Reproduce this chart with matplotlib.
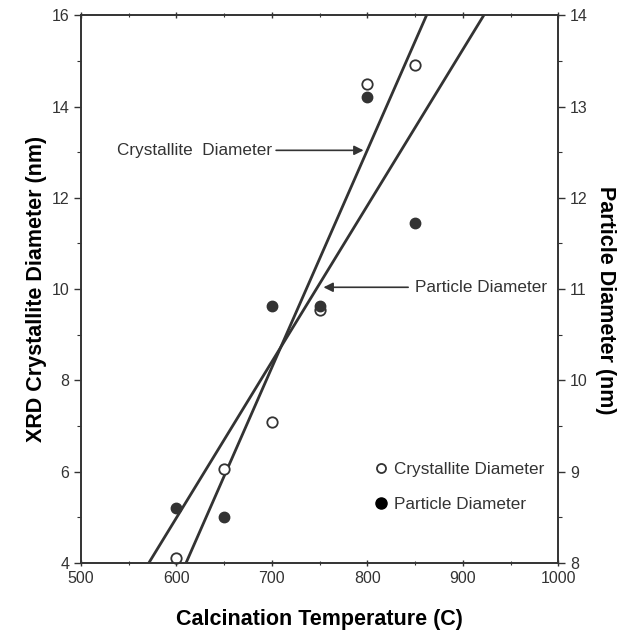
import numpy as np
import matplotlib
matplotlib.use('Agg')
import matplotlib.pyplot as plt
from matplotlib.lines import Line2D

"""
XRD crystallite diameter and particle diameter vs calcination temperature.
"""

# data
temps = [600, 650, 700, 750, 800, 850]
crystallite = [4.12, 6.05, 7.08, 9.55, 14.5, 14.9]    # left axis (nm)
particle = [8.6, 8.5, 10.82, 10.82, 13.1, 11.72]      # right axis (nm)

# fitted lines (end points)
cryst_fit_x = [610, 862]
cryst_fit_y = [4, 16]
part_fit_x = [571, 922]
part_fit_y = [8, 14]

xticks = [500, 600, 700, 800, 900, 1000]
left_ticks = [4, 6, 8, 10, 12, 14, 16]
right_ticks = [8, 9, 10, 11, 12, 13, 14]

ink = '#333333'
plt.rcParams['font.family'] = ['Liberation Sans', 'DejaVu Sans']
plt.rcParams['text.color'] = ink
plt.rcParams['axes.edgecolor'] = ink
plt.rcParams['xtick.color'] = ink
plt.rcParams['ytick.color'] = ink


def style_axis(ax):
    """"""
    ax.tick_params(which='major', length=5, width=1, labelsize=11.5, direction='out')
    ax.tick_params(which='minor', length=3, width=0.8, direction='out')
    for sp in ax.spines.values():
        sp.set_linewidth(1.2)


def main():
    """"""
    fig = plt.figure(figsize=(6.28, 6.34), dpi=100)
    ax = fig.add_axes([0.129, 0.112, 0.760, 0.864])
    ax2 = ax.twinx()

    ax.set_xlim(500, 1000)
    ax.set_ylim(4, 16)
    ax2.set_ylim(8, 14)

    ax.set_xticks(xticks)
    ax.set_xticks(np.arange(550, 1000, 100), minor=True)
    ax.set_yticks(left_ticks)
    ax.set_yticks(np.arange(5, 16, 2), minor=True)
    ax2.set_yticks(right_ticks)
    ax2.set_yticks(np.arange(8.5, 14, 1), minor=True)

    style_axis(ax)
    style_axis(ax2)
    ax.tick_params(axis='x', which='both', top=True)
    ax.tick_params(axis='x', which='both', direction='inout')

    # fit lines
    ax.plot(cryst_fit_x, cryst_fit_y, '-', color=ink, lw=2.0, zorder=3)
    ax2.plot(part_fit_x, part_fit_y, '-', color=ink, lw=2.0, zorder=3)

    # points
    ax.plot(temps, crystallite, 'o', mfc='white', mec=ink, mew=1.3, ms=7.5,
            ls='none', zorder=5, clip_on=False)
    ax2.plot(temps, particle, 'o', mfc=ink, mec=ink, ms=7.5, ls='none',
             zorder=5, clip_on=False)

    # arrows pointing at the fit lines
    ax.annotate('Crystallite  Diameter', xy=(796, 13.04), xytext=(700, 13.04),
                ha='right', va='center', fontsize=12.3,
                arrowprops=dict(arrowstyle='-|>', color=ink, lw=1.2,
                                mutation_scale=14, shrinkA=1, shrinkB=0))
    ax.annotate('Particle Diameter', xy=(754, 10.04), xytext=(850, 10.04),
                ha='left', va='center', fontsize=12.3,
                arrowprops=dict(arrowstyle='-|>', color=ink, lw=1.2,
                                mutation_scale=14, shrinkA=3, shrinkB=0))

    # legend
    handles = [
        Line2D([], [], marker='o', ls='none', mfc='white', mec=ink, mew=1.3, ms=6.5),
        Line2D([], [], marker='o', ls='none', mfc='black', mec='black', ms=8),
    ]
    leg = ax.legend(handles, ['Crystallite Diameter', 'Particle Diameter'],
                    loc='center left', bbox_to_anchor=(0.581, 0.139),
                    frameon=False, fontsize=12.3, handletextpad=0.37,
                    handlelength=0.8, labelspacing=1.15)
    for t in leg.get_texts():
        t.set_color(ink)

    ax.set_xlabel('Calcination Temperature (C)', fontsize=15.5, fontweight='bold',
                  labelpad=16)
    ax.set_ylabel('XRD Crystallite Diameter (nm)', fontsize=15.5, fontweight='bold',
                  labelpad=3)
    ax2.set_ylabel('Particle Diameter (nm)', fontsize=15.5, fontweight='bold',
                   rotation=270, va='center')
    ax2.yaxis.set_label_coords(1.099, 0.48)

    fig.savefig('out.png', dpi=100)


if __name__ == '__main__':
    main()
